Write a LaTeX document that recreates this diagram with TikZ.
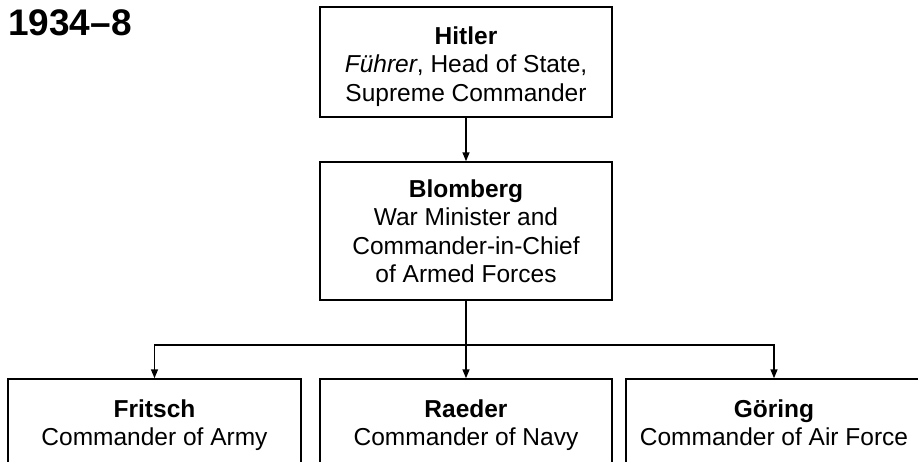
\documentclass[tikz,border=0pt]{standalone}
\usepackage{fontspec}
\setmainfont{Liberation Sans}
\usetikzlibrary{arrows.meta}
\begin{document}
\begin{tikzpicture}[x=1pt,y=-1pt,
  box/.style={draw, line width=1.5pt, minimum width=292pt, inner sep=0pt,
    align=center, font=\fontsize{24.5}{28.5}\selectfont},
  link/.style={line width=1.5pt},
  arr/.style={link, -{Triangle[length=9pt,width=7pt]}}]
  \clip (0,0) rectangle (918,461);
  \fill[white] (0,0) rectangle (918,461);

  % period heading
  \node[anchor=base west, inner sep=0pt, font=\fontsize{37}{40}\selectfont\bfseries]
    (title) at (8,35) {1934–8};

  % command chain
  \node[box, minimum height=110pt] (hitler) at (466,62)
    {\rule{0pt}{27pt}\textbf{Hitler}\\\textit{Führer}, Head of State,\\Supreme Commander};
  \node[box, minimum height=138pt] (blomberg) at (466,231)
    {\textbf{Blomberg}\\War Minister and\\Commander-in-Chief\\of Armed Forces};

  % service chiefs (struts keep the three baselines level)
  \node[box, minimum height=92pt, minimum width=293pt] (fritsch) at (154.5,425)
    {\vphantom{h}\textbf{Fritsch}\\Commander of Army\vphantom{y}};
  \node[box, minimum height=92pt] (raeder) at (466,425)
    {\vphantom{h}\textbf{Raeder}\\Commander of Navy\vphantom{y}};
  \node[box, minimum height=92pt, minimum width=296pt] (goring) at (774,425)
    {\vphantom{h}\textbf{Göring}\\Commander of Air Force\vphantom{y}};

  % connectors
  \coordinate (bus) at (466,345);
  \draw[arr] (hitler.south) -- (blomberg.north);
  \draw[link] (blomberg.south) -- (bus);
  \draw[arr] (bus) -| (fritsch.north);
  \draw[arr] (bus) -- (raeder.north);
  \draw[arr] (bus) -| (goring.north);
\end{tikzpicture}
\end{document}
